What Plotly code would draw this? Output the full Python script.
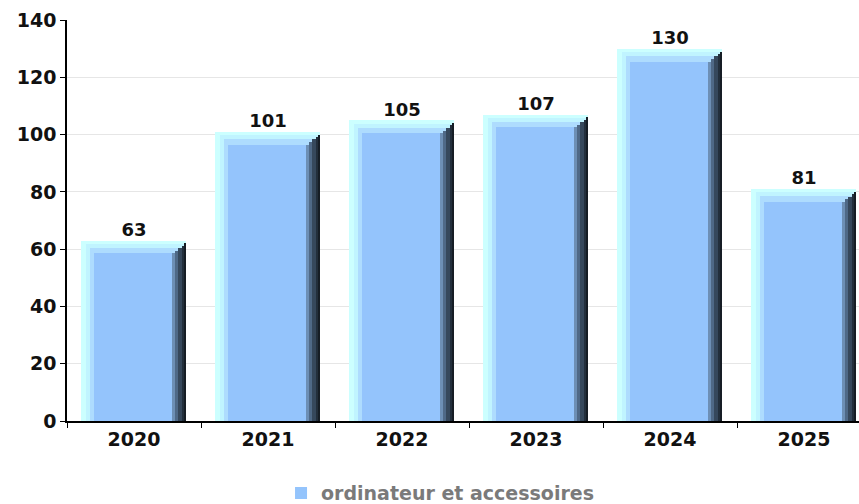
import plotly.graph_objects as go

categories = ["2020", "2021", "2022", "2023", "2024", "2025"]
values = [63, 101, 105, 107, 130, 81]
series_name = "ordinateur et accessoires"
y_ticks = [0, 20, 40, 60, 80, 100, 120, 140]

FONT = "DejaVu Sans"
fig = go.Figure()

def layer(x0, x1, drop, color, name=None, show=False):
    fig.add_trace(go.Bar(
        x=categories,
        y=[v - drop for v in values],
        offset=x0, width=x1 - x0,
        marker=dict(color=color, line=dict(width=0)),
        name=name if name else "",
        showlegend=show,
        hoverinfo="skip",
    ))

# bevelled 3D-looking bars built from stacked overlay layers
layer(-0.395, 0.39, 0.0, "#ccffff")          # outer (top/left bevel)
layer(-0.36, 0.39, 1.2, "#c0f4ff")
layer(-0.33, 0.39, 2.6, "#aedcfe")
layer(-0.30, 0.281, 4.5, "#94c4fc", series_name, True)   # face
layer(0.281, 0.39, 4.5, "#6d8fb5")           # right shaded side
layer(0.305, 0.39, 3.6, "#4f6987")
layer(0.33, 0.39, 2.7, "#36485c")
layer(0.355, 0.39, 1.8, "#232f3c")
layer(0.375, 0.39, 1.0, "#161d25")

fig.add_trace(go.Scatter(
    x=categories, y=values, mode="text",
    text=[str(v) for v in values],
    textposition="top center",
    textfont=dict(family=FONT, size=18, color="#111111", weight="bold"),
    showlegend=False, hoverinfo="skip",
))

fig.update_layout(
    width=859, height=504,
    margin=dict(l=67, r=0, t=20, b=83, autoexpand=False),
    paper_bgcolor="white", plot_bgcolor="white",
    barmode="overlay",
    bargap=0,
    font=dict(family=FONT, color="#111111"),
    legend=dict(
        orientation="h", x=0.471, xanchor="center", y=-0.18, yanchor="middle",
        font=dict(family=FONT, size=19, color="#7a7a7a", weight="bold"),
        itemwidth=30,
    ),
    xaxis=dict(
        type="category", range=[-0.5, 5.41], automargin=False,
        showline=True, linecolor="#000000", linewidth=1.5,
        ticks="outside", tickson="boundaries", ticklen=5, tickcolor="#000000",
        tickfont=dict(family=FONT, size=19, color="#111111", weight="bold"),
        showgrid=False,
    ),
    yaxis=dict(
        range=[0, 140], tickvals=y_ticks, automargin=False,
        showline=True, linecolor="#000000", linewidth=1.5,
        ticks="outside", ticklen=5, tickcolor="#000000",
        tickfont=dict(family=FONT, size=19, color="#111111", weight="bold"),
        showgrid=True, gridcolor="#e6e6e6", gridwidth=1,
        zeroline=False,
    ),
)

fig.write_html(
    "out.html",
    config={"displayModeBar": False},
    post_script="document.body.style.margin='0';document.body.style.overflow='hidden';",
)
